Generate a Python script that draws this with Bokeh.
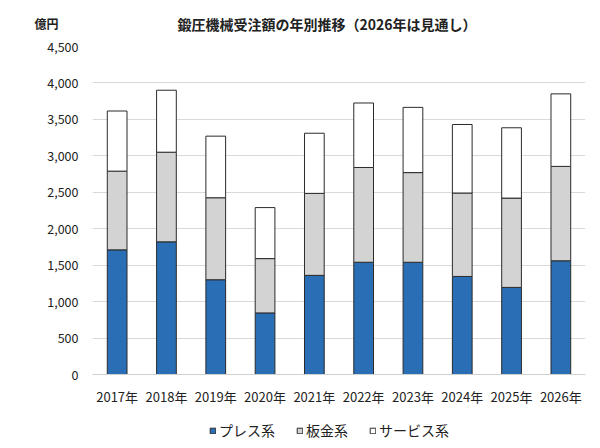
from bokeh.plotting import figure
from bokeh.models import Legend, LegendItem, Label, NumeralTickFormatter, FactorRange, Range1d
from bokeh.layouts import column
from bokeh.embed import file_html
from bokeh.resources import INLINE

years = ["2017年", "2018年", "2019年", "2020年", "2021年", "2022年", "2023年", "2024年", "2025年", "2026年"]
press = [1710, 1820, 1300, 845, 1360, 1540, 1540, 1345, 1195, 1560]
sheet = [1080, 1230, 1125, 745, 1125, 1300, 1230, 1145, 1225, 1295]
service = [825, 850, 845, 700, 825, 885, 895, 940, 965, 995]
series = ["press", "sheet", "service"]
series_labels = ["プレス系", "板金系", "サービス系"]
colors = ["#2a6eb5", "#d3d3d3", "#ffffff"]
y_ticks = [0, 500, 1000, 1500, 2000, 2500, 3000, 3500, 4000, 4500]
title_text = "鍛圧機械受注額の年別推移（2026年は見通し）"
unit_text = "億円"

FONT = "Noto Sans CJK JP"
TXT = "#222222"
EDGE = "#2b2b2b"

p = figure(x_range=FactorRange(*years, range_padding=0), y_range=(0, 4500),
           width=600, height=408, output_backend="svg", toolbar_location=None,
           min_border_left=92, min_border_right=15, min_border_top=46, min_border_bottom=31)
p.outline_line_color = None

data = dict(years=years, press=press, sheet=sheet, service=service)
rs = p.vbar_stack(series, x="years", width=0.4, source=data, color=colors,
                  line_color=EDGE, line_width=1)

p.yaxis.ticker = y_ticks
p.yaxis.formatter = NumeralTickFormatter(format="0,0")
p.yaxis.axis_line_color = None
p.yaxis.major_tick_line_color = None
p.yaxis.minor_tick_line_color = None
p.yaxis.major_tick_out = 0
p.yaxis.major_label_standoff = 14
p.yaxis.major_label_text_font = FONT
p.yaxis.major_label_text_font_size = "12.5px"
p.yaxis.major_label_text_color = TXT

p.xaxis.axis_line_color = "#d0d0d0"
p.xaxis.major_tick_line_color = None
p.xaxis.major_tick_out = 0
p.xaxis.major_label_standoff = 12
p.xaxis.major_label_text_font = FONT
p.xaxis.major_label_text_font_size = "13px"
p.xaxis.major_label_text_color = TXT

p.xgrid.grid_line_color = None
p.ygrid.grid_line_color = "#d9d9d9"
p.ygrid.grid_line_width = 1

title = Label(x=85, y=23, x_units="screen", y_units="screen", text=title_text,
              text_align="left", text_baseline="middle", text_font=FONT,
              text_font_size="14px", text_font_style="bold", text_color=TXT)
unit = Label(x=-58, y=3, x_units="screen", y_units="screen", text=unit_text,
             text_align="left", text_baseline="middle", text_font=FONT,
             text_font_size="12px", text_font_style="bold", text_color=TXT)
p.add_layout(title, "above")
p.add_layout(unit, "above")

# legend strip below the chart (swatches mirror the series styling, drawn off-range)
f = figure(width=600, height=40, output_backend="svg", toolbar_location=None,
           x_range=Range1d(0, 1), y_range=Range1d(0, 1),
           x_axis_type=None, y_axis_type=None, min_border=0)
f.outline_line_color = None
f.grid.grid_line_color = None
swatches = [f.vbar(x=[-5], top=[-5], bottom=[-6], width=0.1, fill_color=c, line_color=EDGE, line_width=1)
            for c in colors]
legend = Legend(items=[LegendItem(label=l, renderers=[r]) for l, r in zip(series_labels, swatches)],
                orientation="horizontal", location=(117, 8))
legend.label_text_font = FONT
legend.label_text_font_size = "14px"
legend.label_text_color = TXT
legend.glyph_width = 7
legend.glyph_height = 7
legend.label_standoff = 3
legend.spacing = 21
legend.padding = 0
legend.margin = 0
legend.border_line_color = None
legend.background_fill_alpha = 0
f.add_layout(legend)

layout = column(p, f, spacing=0)
open("out.html", "w").write(file_html(layout, INLINE))
